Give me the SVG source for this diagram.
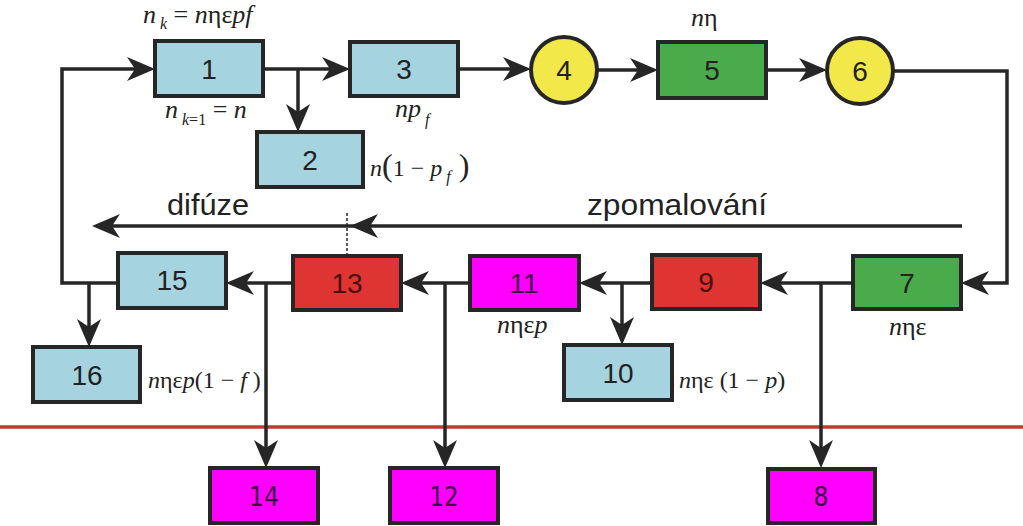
<svg xmlns="http://www.w3.org/2000/svg" width="1023" height="526" viewBox="0 0 1023 526">
<defs>
<marker id="ah" viewBox="0 0 28 24" refX="24" refY="12" markerWidth="28" markerHeight="24" markerUnits="userSpaceOnUse" orient="auto">
<path d="M0,0 L28,12 L0,24 L8,12 Z" fill="#262626"/>
</marker>
<style>
.ln{stroke:#262626;stroke-width:3.5;fill:none}
.dash{stroke:#262626;stroke-width:1.5;stroke-dasharray:3,2;fill:none}
.box{stroke:#262626;stroke-width:4}
.blue{fill:#a6d3e0}
.green{fill:#4aab4a}
.red{fill:#de3532}
.mag{fill:#ff00ff}
.yel{fill:#f3e84a}
.num{font-family:"Liberation Sans",Arial,sans-serif;font-size:28px;text-anchor:middle;fill:#222}
.num2{font-family:"DejaVu Sans Condensed","Liberation Sans",sans-serif;font-size:26px;text-anchor:middle;fill:#3a0a45}
.m{font-family:"Liberation Serif","DejaVu Serif","Noto Serif",serif;font-size:26px;fill:#222}
.s{font-size:24px}
.sub{font-size:16px}
.i{font-style:italic}
.lbl{font-family:"Liberation Sans",Arial,sans-serif;font-size:30px;fill:#222}
</style>
</defs>
<rect width="1023" height="526" fill="#ffffff"/>

<line x1="0" y1="427" x2="1023" y2="427" stroke="#c4392e" stroke-width="3.5"/>

<g id="connectors">
<path class="ln" d="M118,283 H62 V69 H151" marker-end="url(#ah)"/>
<path class="ln" d="M89,283 V343" marker-end="url(#ah)"/>
<path class="ln" d="M263,69 H346" marker-end="url(#ah)"/>
<path class="ln" d="M298,69 V128" marker-end="url(#ah)"/>
<path class="ln" d="M458,69 H527" marker-end="url(#ah)"/>
<path class="ln" d="M597,70 H654" marker-end="url(#ah)"/>
<path class="ln" d="M766,70 H823" marker-end="url(#ah)"/>
<path class="ln" d="M893,71 H1007 V283 H965" marker-end="url(#ah)"/>
<path class="ln" d="M853,283 H764" marker-end="url(#ah)"/>
<path class="ln" d="M821,283 V464" marker-end="url(#ah)"/>
<path class="ln" d="M652,283 H583" marker-end="url(#ah)"/>
<path class="ln" d="M622,283 V341" marker-end="url(#ah)"/>
<path class="ln" d="M470,283 H405" marker-end="url(#ah)"/>
<path class="ln" d="M445,283 V464" marker-end="url(#ah)"/>
<path class="ln" d="M293,283 H230" marker-end="url(#ah)"/>
<path class="ln" d="M266,283 V464" marker-end="url(#ah)"/>
<path class="ln" d="M962,226 H354" marker-end="url(#ah)"/>
<path class="ln" d="M360,226 H96" marker-end="url(#ah)"/>
<line class="dash" x1="347" y1="213" x2="347" y2="256"/>
</g>

<g id="n1"><rect class="box blue" x="155" y="41" width="108" height="55"/><text class="num" x="209" y="79">1</text></g>
<g id="n2"><rect class="box blue" x="257" y="132" width="106" height="55"/><text class="num" x="310" y="170">2</text></g>
<g id="n3"><rect class="box blue" x="350" y="42" width="108" height="54"/><text class="num" x="404" y="79">3</text></g>
<g id="n4"><circle class="box yel" cx="564" cy="70" r="33"/><text class="num" x="564" y="80">4</text></g>
<g id="n5"><rect class="box green" x="658" y="42" width="108" height="56"/><text class="num" x="712" y="80">5</text></g>
<g id="n6"><circle class="box yel" cx="860" cy="71" r="33"/><text class="num" x="860" y="81">6</text></g>
<g id="n7"><rect class="box green" x="853" y="256" width="108" height="53"/><text class="num" x="907" y="293">7</text></g>
<g id="n8"><rect class="box mag" x="768" y="469" width="107" height="54"/><text class="num2" x="821" y="506" textLength="15" lengthAdjust="spacingAndGlyphs">8</text></g>
<g id="n9"><rect class="box red" x="652" y="255" width="108" height="54"/><text class="num" x="706" y="292" style="fill:#4a0f0f">9</text></g>
<g id="n10"><rect class="box blue" x="564" y="345" width="108" height="55"/><text class="num" x="618" y="383">10</text></g>
<g id="n11"><rect class="box mag" x="470" y="256" width="109" height="54"/><text class="num" x="524" y="293" style="fill:#3a0a45">11</text></g>
<g id="n12"><rect class="box mag" x="390" y="468" width="108" height="55"/><text class="num2" x="444" y="506" textLength="29" lengthAdjust="spacingAndGlyphs">12</text></g>
<g id="n13"><rect class="box red" x="293" y="256" width="108" height="54"/><text class="num" x="347" y="293" style="fill:#4a0f0f">13</text></g>
<g id="n14"><rect class="box mag" x="210" y="468" width="108" height="55"/><text class="num2" x="264" y="506" textLength="30" lengthAdjust="spacingAndGlyphs">14</text></g>
<g id="n15"><rect class="box blue" x="118" y="253" width="108" height="55"/><text class="num" x="172" y="290">15</text></g>
<g id="n16"><rect class="box blue" x="33" y="347" width="107" height="55"/><text class="num" x="87" y="385">16</text></g>

<g id="labels">
<text class="m" x="143" y="23"><tspan class="i">n</tspan><tspan class="sub i" dy="6"> k</tspan><tspan dy="-6"> = </tspan><tspan class="i">n</tspan>ηε<tspan class="i">pf</tspan></text>
<text class="m" x="165" y="118"><tspan class="i">n</tspan><tspan class="sub" dy="7"> <tspan class="i">k</tspan>=1</tspan><tspan dy="-7"> = </tspan><tspan class="i">n</tspan></text>
<text class="m" x="395" y="117"><tspan class="i">np</tspan><tspan class="sub i" dy="8"> f</tspan></text>
<text class="m s" x="370" y="176"><tspan class="i">n</tspan><tspan font-size="32">(</tspan>1 − <tspan class="i">p</tspan><tspan class="sub i" dy="6"> f</tspan><tspan dy="-6" font-size="32"> )</tspan></text>
<text class="m" x="691" y="26"><tspan class="i">n</tspan>η</text>
<text class="m" x="889" y="335"><tspan class="i">n</tspan>ηε</text>
<text class="m" x="497" y="333"><tspan class="i">n</tspan>ηε<tspan class="i">p</tspan></text>
<text class="m s" x="679" y="388"><tspan class="i">n</tspan>ηε (1 − <tspan class="i">p</tspan>)</text>
<text class="m s" x="148" y="388"><tspan class="i">n</tspan>ηε<tspan class="i">p</tspan>(1 − <tspan class="i">f</tspan> )</text>
<text class="lbl" x="167" y="215" textLength="82" lengthAdjust="spacingAndGlyphs">difúze</text>
<text class="lbl" x="587" y="215" textLength="180" lengthAdjust="spacingAndGlyphs">zpomalování</text>
</g>
</svg>
